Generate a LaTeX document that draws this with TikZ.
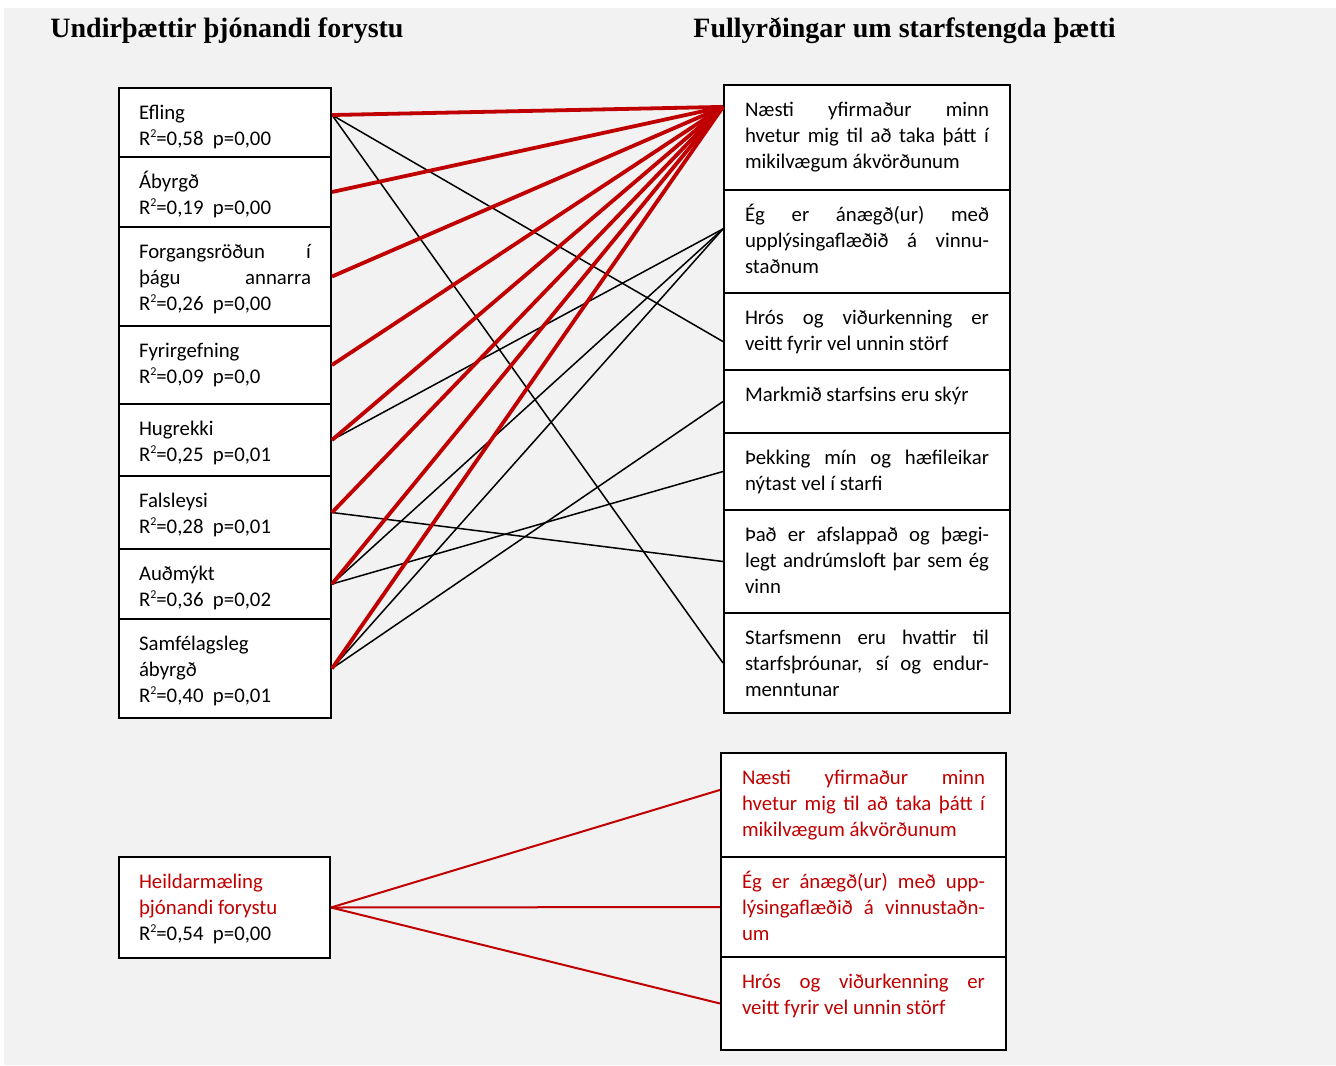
\documentclass[tikz,border=0pt]{standalone}
\usepackage{fontspec}
\setmainfont{Carlito}
\newfontfamily\headfont{Liberation Serif}

\newlength{\du}
\setlength{\du}{0.5pt}

\definecolor{bggray}{RGB}{242,242,242}
\definecolor{linkred}{RGB}{192,0,0}

% box text, top aligned in a box of fixed height
\newcommand{\celltext}[2]{\vbox to #1\du{\hyphenpenalty=10000\relax\vskip 12.8\du\strut #2\par\vfil}}
\newcommand{\rsq}[2]{R\raisebox{0.75ex}{\fontsize{6}{6}\selectfont 2}=#1\ \ p=#2}

\begin{document}
\begin{tikzpicture}[
  cellfont/.style={font=\fontsize{10.4}{13}\selectfont},
  leftcell/.style={cellfont, draw, line width=2\du, fill=white, anchor=north west,
    inner xsep=20\du, inner ysep=0pt, text width=172\du, align=justify},
  rightcell/.style={cellfont, draw, line width=2\du, fill=white, anchor=north west,
    inner xsep=21\du, inner ysep=0pt, text width=244\du, align=justify},
  head/.style={font=\headfont\bfseries\fontsize{14}{16}\selectfont, anchor=base west, inner sep=0pt},
  blackline/.style={draw=black, line width=1.5\du},
  redline/.style={draw=linkred, line width=3.8\du},
  sumline/.style={draw=linkred, line width=2\du}
]
\pgftransformxscale{1.000000}
\pgftransformyscale{-1.000000}
\useasboundingbox (0\du,0\du) rectangle (1336\du,1065\du);
\fill[white] (0\du,0\du) rectangle (1336\du,1065\du);
\fill[bggray] (4\du,8\du) rectangle (1336\du,1065\du);

% headings
\node[head] (lefthead) at (50\du,37.5\du) {Undirþættir þjónandi forystu};
\node[head] (righthead) at (693\du,37.5\du) {Fullyrðingar um starfstengda þætti};

% sub factors
\node[leftcell] (efling) at (118\du,87\du) {\celltext{69}{Efling\\ \rsq{0,58}{0,00}}};
\node[leftcell] (abyrgd) at (118\du,156\du) {\celltext{70}{Ábyrgð\\ \rsq{0,19}{0,00}}};
\node[leftcell] (forgang) at (118\du,226\du) {\celltext{99}{Forgangsröðun í\linebreak þágu annarra\linebreak \rsq{0,26}{0,00}}};
\node[leftcell] (fyrirgef) at (118\du,325\du) {\celltext{78}{Fyrirgefning\\ \rsq{0,09}{0,0}}};
\node[leftcell] (hugrekki) at (118\du,403\du) {\celltext{72}{Hugrekki\\ \rsq{0,25}{0,01}}};
\node[leftcell] (falsleysi) at (118\du,475\du) {\celltext{73}{Falsleysi\\ \rsq{0,28}{0,01}}};
\node[leftcell] (audmykt) at (118\du,548\du) {\celltext{70}{Auðmýkt\\ \rsq{0,36}{0,02}}};
\node[leftcell] (samfel) at (118\du,618\du) {\celltext{99}{Samfélagsleg\\ ábyrgð\\ \rsq{0,40}{0,01}}};

% statements
\node[rightcell] (naesti) at (723\du,84\du) {\celltext{105}{Næsti yfirmaður minn\linebreak hvetur mig til að taka þátt í\linebreak mikilvægum ákvörðunum}};
\node[rightcell] (eg) at (723\du,189\du) {\celltext{103}{Ég er ánægð(ur) með\linebreak upplýsingaflæðið á vinnu-\linebreak staðnum}};
\node[rightcell] (hros) at (723\du,292\du) {\celltext{77}{Hrós og viðurkenning er\linebreak veitt fyrir vel unnin störf}};
\node[rightcell] (markmid) at (723\du,369\du) {\celltext{63}{Markmið starfsins eru skýr}};
\node[rightcell] (thekking) at (723\du,432\du) {\celltext{77}{Þekking mín og hæfileikar\linebreak nýtast vel í starfi}};
\node[rightcell] (thad) at (723\du,509\du) {\celltext{103}{Það er afslappað og þægi-\linebreak legt andrúmsloft þar sem ég\linebreak vinn}};
\node[rightcell] (starfsm) at (723\du,612\du) {\celltext{100}{Starfsmenn eru hvattir til\linebreak starfsþróunar, sí og endur-\linebreak menntunar}};

% black links
\draw[blackline] (efling.4) -- (hros.184);
\draw[blackline] (efling.4) -- (starfsm.west);
\draw[blackline] (hugrekki.east) -- (eg.175);
\draw[blackline] (falsleysi.east) -- (thad.west);
\draw[blackline] (audmykt.east) -- (eg.175);
\draw[blackline] (audmykt.east) -- (thekking.west);
\draw[blackline] (samfel.east) -- (eg.175);
\draw[blackline] (samfel.east) -- (markmid.west);

% red links
\foreach \src in {efling.4,abyrgd.east,forgang.east,fyrirgef.east,hugrekki.east,falsleysi.east,audmykt.east,samfel.east}
  \draw[redline] (\src) -- (naesti.168);

% total measure
\node[leftcell, text width=171\du] (heild) at (118\du,856\du) {\celltext{101}{\color{linkred}Heildarmæling\\ þjónandi forystu\\ \color{black}\rsq{0,54}{0,00}}};
\node[rightcell, text width=243\du, text=linkred] (naestiB) at (720\du,752\du) {\celltext{104}{Næsti yfirmaður minn\linebreak hvetur mig til að taka þátt í\linebreak mikilvægum ákvörðunum}};
\node[rightcell, text width=243\du, text=linkred] (egB) at (720\du,856\du) {\celltext{100}{Ég er ánægð(ur) með upp-\linebreak lýsingaflæðið á vinnustaðn-\linebreak um}};
\node[rightcell, text width=243\du, text=linkred] (hrosB) at (720\du,956\du) {\celltext{93}{Hrós og viðurkenning er\linebreak veitt fyrir vel unnin störf}};

\draw[sumline] (heild.east) -- (naestiB.174);
\draw[sumline] (heild.east) -- (egB.west);
\draw[sumline] (heild.east) -- (hrosB.west);
\end{tikzpicture}
\end{document}
